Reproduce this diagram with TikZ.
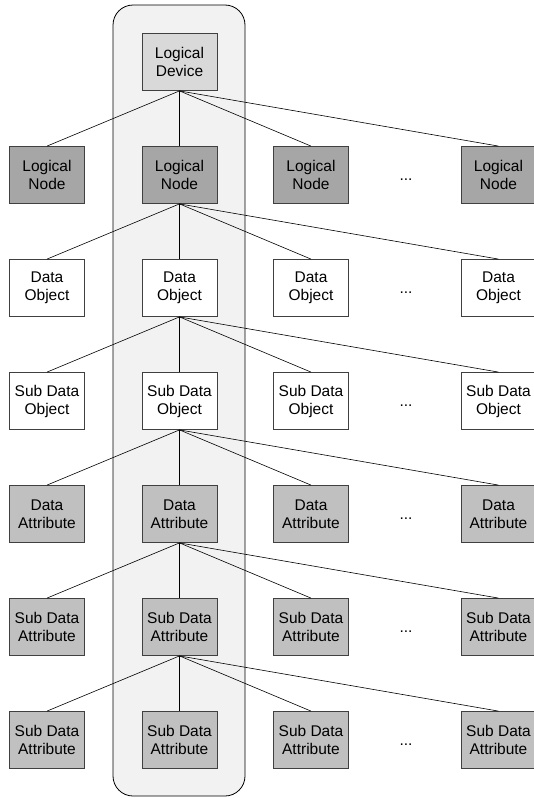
\documentclass[tikz,border=0pt]{standalone}
\usepackage{fontspec}
\setmainfont{Liberation Sans}
\usepackage{xcolor}
\usepackage{tikz}
\usetikzlibrary{positioning}

\definecolor{ldfill}{HTML}{D9D9D9}
\definecolor{lnfill}{HTML}{A6A6A6}
\definecolor{dafill}{HTML}{C0C0C0}
\definecolor{colfill}{HTML}{F2F2F2}
\definecolor{boxline}{HTML}{404040}

\begin{document}
\begin{tikzpicture}[
  x=1pt, y=-1pt,
  font=\fontsize{15.5}{18}\selectfont,
  box/.style={rectangle, draw=boxline, line width=0.8pt, align=center,
              minimum width=75pt, minimum height=57pt, inner sep=1pt},
  ldbox/.style={box, fill=ldfill},
  lnbox/.style={box, fill=lnfill},
  dobox/.style={box, fill=white},
  dabox/.style={box, fill=dafill},
  dots/.style={anchor=base, inner sep=0pt},
  link/.style={draw=black, line width=0.6pt},
]
\useasboundingbox (0,0) rectangle (534,798);
% the highlighted column
\draw[fill=colfill, line width=0.8pt, rounded corners=20pt]
  (113,5) rectangle (245,796);

\node[ldbox] (ld) at (179.5,62) {Logical\\Device};

\node[lnbox] (ln1) at (47,175)    {Logical\\Node};
\node[lnbox] (ln2) at (179.5,175) {Logical\\Node};
\node[lnbox] (ln3) at (311,175)   {Logical\\Node};
\node[dots]  (lnd) at (406,180)   {...};
\node[lnbox] (ln4) at (498.5,175) {Logical\\Node};

\node[dobox] (do1) at (47,288)    {Data\\Object};
\node[dobox] (do2) at (179.5,288) {Data\\Object};
\node[dobox] (do3) at (311,288)   {Data\\Object};
\node[dots]  (dod) at (406,293)   {...};
\node[dobox] (do4) at (498.5,288) {Data\\Object};

\node[dobox] (sdo1) at (47,401)    {Sub Data\\Object};
\node[dobox] (sdo2) at (179.5,401) {Sub Data\\Object};
\node[dobox] (sdo3) at (311,401)   {Sub Data\\Object};
\node[dots]  (sdod) at (406,406)   {...};
\node[dobox] (sdo4) at (498.5,401) {Sub Data\\Object};

\node[dabox] (da1) at (47,514)    {Data\\Attribute};
\node[dabox] (da2) at (179.5,514) {Data\\Attribute};
\node[dabox] (da3) at (311,514)   {Data\\Attribute};
\node[dots]  (dad) at (406,519)   {...};
\node[dabox] (da4) at (498.5,514) {Data\\Attribute};

\node[dabox] (sda1) at (47,627)    {Sub Data\\Attribute};
\node[dabox] (sda2) at (179.5,627) {Sub Data\\Attribute};
\node[dabox] (sda3) at (311,627)   {Sub Data\\Attribute};
\node[dots]  (sdad) at (406,632)   {...};
\node[dabox] (sda4) at (498.5,627) {Sub Data\\Attribute};

\node[dabox] (ssda1) at (47,740)    {Sub Data\\Attribute};
\node[dabox] (ssda2) at (179.5,740) {Sub Data\\Attribute};
\node[dabox] (ssda3) at (311,740)   {Sub Data\\Attribute};
\node[dots]  (ssdad) at (406,745)   {...};
\node[dabox] (ssda4) at (498.5,740) {Sub Data\\Attribute};

% tree links
\draw[link] (ld.south) -- (ln1.north);
\draw[link] (ld.south) -- (ln2.north);
\draw[link] (ld.south) -- (ln3.north);
\draw[link] (ld.south) -- (ln4.north);
\draw[link] (ln2.south) -- (do1.north);
\draw[link] (ln2.south) -- (do2.north);
\draw[link] (ln2.south) -- (do3.north);
\draw[link] (ln2.south) -- (do4.north);
\draw[link] (do2.south) -- (sdo1.north);
\draw[link] (do2.south) -- (sdo2.north);
\draw[link] (do2.south) -- (sdo3.north);
\draw[link] (do2.south) -- (sdo4.north);
\draw[link] (sdo2.south) -- (da1.north);
\draw[link] (sdo2.south) -- (da2.north);
\draw[link] (sdo2.south) -- (da3.north);
\draw[link] (sdo2.south) -- (da4.north);
\draw[link] (da2.south) -- (sda1.north);
\draw[link] (da2.south) -- (sda2.north);
\draw[link] (da2.south) -- (sda3.north);
\draw[link] (da2.south) -- (sda4.north);
\draw[link] (sda2.south) -- (ssda1.north);
\draw[link] (sda2.south) -- (ssda2.north);
\draw[link] (sda2.south) -- (ssda3.north);
\draw[link] (sda2.south) -- (ssda4.north);
\end{tikzpicture}
\end{document}
